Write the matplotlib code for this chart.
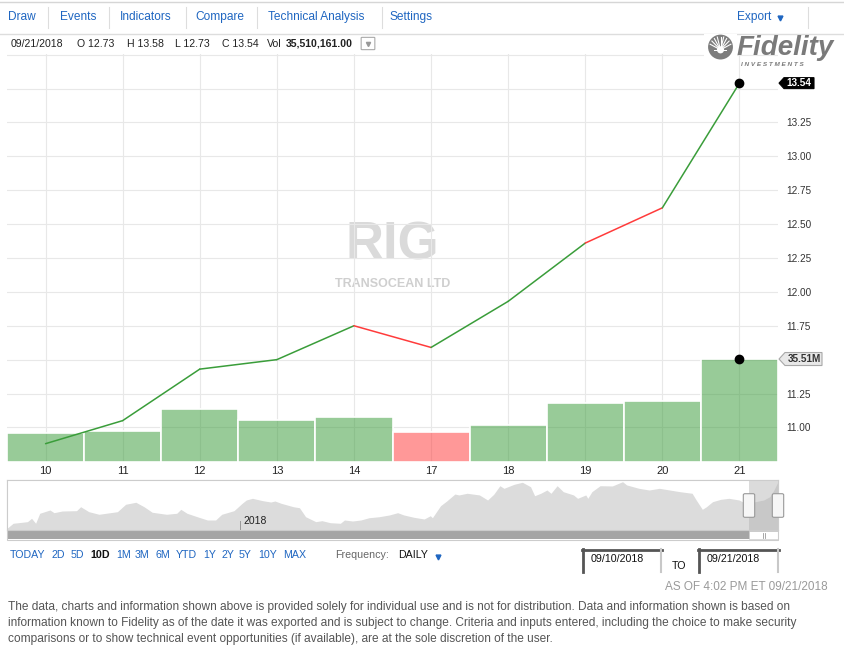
import math
import matplotlib
matplotlib.use("Agg")
import matplotlib.pyplot as plt
from matplotlib.patches import Rectangle, Polygon, FancyBboxPatch, Circle
from matplotlib.lines import Line2D
import pandas as pd

plt.rcParams["font.family"] = ["Liberation Sans", "DejaVu Sans"]

W, H = 844, 649

# ─── Data ────────────────────────────────────────────────────────────────────
days = ["10", "11", "12", "13", "14", "17", "18", "19", "20", "21"]
close = [10.88, 11.05, 11.43, 11.50, 11.75, 11.59, 11.93, 12.36, 12.62, 13.54]
volume_m = [9.9, 10.6, 18.2, 14.4, 15.5, 10.3, 12.6, 20.2, 20.9, 35.51]
vol_up = [True, True, True, True, True, False, True, True, True, True]
seg_up = [True, True, True, True, False, True, True, False, True]
price_ticks = [11.00, 11.25, 11.50, 11.75, 12.00, 12.25, 12.50, 12.75, 13.00, 13.25, 13.50, 13.75]
hidden_ticks = [11.50, 13.50, 13.75]

# navigator: one year of closes (days since nav_start)
nav_start = "2017-09-09"
nav_end = "2018-09-21"
nav_sel_start = "2018-09-07"
nav_day = [0, 3, 10, 12, 14, 16, 21, 23, 27, 34, 36, 40, 45, 54, 58, 63, 67, 71, 78, 83,
           85, 88, 93, 98, 102, 105, 111, 115, 117, 120, 125, 129, 131, 134, 140, 143, 146, 151, 154, 158,
           163, 165, 169, 173, 177, 182, 187, 191, 194, 199, 204, 207, 208, 212, 215, 219, 221, 225, 231, 235,
           238, 241, 243, 248, 252, 256, 258, 261, 264, 266, 269, 272, 277, 279, 283, 284, 286, 290, 296, 301,
           303, 309, 314, 319, 324, 329, 335, 337, 340, 342, 345, 349, 353, 358, 361, 363, 366, 370, 373, 375,
           377]
nav_close = [8.00, 8.60, 8.79, 9.19, 8.60, 9.79, 10.18, 9.86, 10.06, 10.10, 10.57, 9.98, 9.67, 9.98, 10.86, 11.10, 10.57, 9.91, 9.67, 9.79,
             10.26, 9.79, 9.38, 8.99, 8.99, 9.67, 10.10, 10.98, 11.37, 11.57, 11.29, 11.13, 11.25, 10.98, 10.57, 10.45, 9.38, 8.79, 8.91, 8.67,
             8.60, 8.99, 8.87, 8.99, 9.26, 9.38, 9.59, 9.86, 9.59, 9.31, 9.11, 9.50, 9.26, 10.69, 11.25, 12.08, 11.97, 12.17, 11.97, 11.37,
             12.05, 13.07, 12.76, 13.24, 13.48, 12.95, 11.88, 12.17, 12.56, 12.17, 13.07, 12.36, 11.97, 11.57, 11.97, 11.57, 12.36, 13.07, 13.04, 13.55,
             13.16, 12.76, 12.56, 12.76, 12.56, 12.36, 12.17, 11.37, 10.26, 10.57, 11.17, 11.45, 11.57, 11.37, 10.98, 10.98, 11.17, 11.37, 11.76, 12.56,
             13.54]

toolbar_items = ["Draw", "Events", "Indicators", "Compare", "Technical Analysis", "Settings"]
periods = ["TODAY", "2D", "5D", "10D", "1M", "3M", "6M", "YTD", "1Y", "2Y", "5Y", "10Y", "MAX"]
active_period = "10D"
footer = [
    "The data, charts and information shown above is provided solely for individual use and is not for distribution. Data and information shown is based on",
    "information known to Fidelity as of the date it was exported and is subject to change. Criteria and inputs entered, including the choice to make security",
    "comparisons or to show technical event opportunities (if available), are at the sole discretion of the user.",
]

BLUE = "#1f66c1"
GREEN_LINE = "#3a9d3a"
RED_LINE = "#ff3b3b"


def fx(x):
    return x / W


def fy(y):
    return 1 - y / H


def hline(fig, x0, x1, y, color="#dddddd", lw=0.8):
    fig.add_artist(Line2D([fx(x0), fx(x1)], [fy(y), fy(y)], transform=fig.transFigure, color=color, lw=lw))


def vline(fig, x, y0, y1, color="#dddddd", lw=0.8):
    fig.add_artist(Line2D([fx(x), fx(x)], [fy(y0), fy(y1)], transform=fig.transFigure, color=color, lw=lw))


def rect(fig, x0, y0, x1, y1, **kw):
    fig.add_artist(Rectangle((fx(x0), fy(y1)), (x1 - x0) / W, (y1 - y0) / H, transform=fig.transFigure, **kw))


fig = plt.figure(figsize=(W / 100, H / 100), dpi=100, facecolor="white")

# ─── Toolbar ─────────────────────────────────────────────────────────────────
hline(fig, 0, W, 1.5, "#d6d6d6", 1.0)
hline(fig, 0, W, 34, "#dddddd", 1.0)
tool_x = [8, 60, 120, 195, 268, 390]
sep_x = [48, 109, 186, 257, 382, 808]
for s, x in zip(toolbar_items, tool_x):
    fig.text(fx(x), fy(17), s, color=BLUE, fontsize=8.6, va="center", ha="left")
for x in sep_x:
    vline(fig, x, 7, 28, "#dddddd", 0.8)
fig.text(fx(737), fy(17), "Export", color=BLUE, fontsize=8.6, va="center", ha="left")
fig.add_artist(Line2D([fx(780)], [fy(18)], transform=fig.transFigure, marker="v", ms=3.5,
                      color=BLUE, lw=0))

# ─── Info line ───────────────────────────────────────────────────────────────
info = [("09/21/2018", 11, "normal"), ("O 12.73", 77, "normal"), ("H 13.58", 127, "normal"),
        ("L 12.73", 175, "normal"), ("C 13.54", 222, "normal"), ("Vol", 267, "normal"),
        ("35,510,161.00", 286, "bold")]
for s, x, w in info:
    fig.text(fx(x), fy(44), s, fontsize=7.6, va="center", ha="left", color="#222222", weight=w)
fig.add_artist(FancyBboxPatch((fx(362), fy(49)), 12 / W, 11 / H, boxstyle="round,pad=0.001",
                              transform=fig.transFigure, fc="white", ec="#aaaaaa", lw=0.8))
fig.add_artist(Line2D([fx(368)], [fy(43.5)], transform=fig.transFigure, marker="v", ms=3,
                      color="#999999", lw=0))

# ─── Main chart ──────────────────────────────────────────────────────────────
main_rect = [fx(7), fy(461.7), 771 / W, 407.7 / H]
x = list(range(len(days)))

ax = fig.add_axes(main_rect, zorder=1)
ax.set_xlim(-0.5, len(days) - 0.5)
ax.set_ylim(10.747, 13.755)
ax.set_xticks(x)
ax.set_xticklabels(days)
ax.set_yticks(price_ticks)
ax.set_yticklabels(["" if t in hidden_ticks else f"{t:.2f}" for t in price_ticks])
ax.yaxis.tick_right()
ax.tick_params(axis="y", length=0, pad=6, labelsize=7.2, labelcolor="#333333")
ax.tick_params(axis="x", length=0, pad=3, labelsize=8, labelcolor="#222222")
ax.grid(True, color="#e8e8e8", lw=0.8)
for sp in ax.spines.values():
    sp.set_visible(False)

# watermark
ax.text(0.50, 0.53, "RIG", transform=ax.transAxes, ha="center", va="center",
        fontsize=38, weight="bold", color="#dadada", zorder=0)
ax.text(0.50, 0.435, "TRANSOCEAN LTD", transform=ax.transAxes, ha="center", va="center",
        fontsize=9, weight="bold", color="#cfcfcf", zorder=0)

# volume bars
ax_vol = fig.add_axes(main_rect, zorder=2, sharex=ax)
ax_vol.patch.set_alpha(0)
ax_vol.set_ylim(0, 141)
ax_vol.axis("off")
bar_colors = [(0.2, 0.6, 0.2, 0.5) if up else (1.0, 0.2, 0.2, 0.5) for up in vol_up]
ax_vol.bar(x, volume_m, width=1.0, color=bar_colors, edgecolor="white", linewidth=1.2)
ax_vol.plot(x[-1], volume_m[-1], "o", color="black", ms=6, zorder=5)

# volume label
yv = volume_m[-1]
dv = 141 / 407.7
vt = ax_vol.get_yaxis_transform()
ax_vol.add_patch(Polygon([(1 + 1 / 771, yv), (1 + 7 / 771, yv - 6.5 * dv), (1 + 44 / 771, yv - 6.5 * dv),
                          (1 + 44 / 771, yv + 6.5 * dv), (1 + 7 / 771, yv + 6.5 * dv)],
                         closed=True, transform=vt, fc="#e8e8e8", ec="#a8a8a8", lw=0.8, clip_on=False))
ax_vol.text(1 + 26 / 771, yv, f"{yv:.2f}M", transform=vt, ha="center", va="center",
            fontsize=7.2, weight="bold", color="#333333", clip_on=False)

# price line
ax_line = fig.add_axes(main_rect, zorder=3, sharex=ax, sharey=ax)
ax_line.patch.set_alpha(0)
ax_line.axis("off")
for i, up in enumerate(seg_up):
    ax_line.plot([x[i], x[i + 1]], [close[i], close[i + 1]],
                 color=GREEN_LINE if up else RED_LINE, lw=1.1, solid_capstyle="round")
ax_line.plot(x[-1], close[-1], "o", color="black", ms=6, zorder=5)

# last price label
yp = close[-1]
dp = 1 / 136
pt = ax_line.get_yaxis_transform()
ax_line.add_patch(Polygon([(1 + 1 / 771, yp), (1 + 6 / 771, yp - 5.5 * dp), (1 + 36 / 771, yp - 5.5 * dp),
                           (1 + 36 / 771, yp + 5.5 * dp), (1 + 6 / 771, yp + 5.5 * dp)],
                          closed=True, transform=pt, fc="black", ec="black", lw=0.8, clip_on=False))
ax_line.text(1 + 21 / 771, yp, f"{yp:.2f}", transform=pt, ha="center", va="center",
             fontsize=7.2, weight="bold", color="white", clip_on=False)

# ─── Fidelity logo ───────────────────────────────────────────────────────────
lax = fig.add_axes([fx(704), fy(60), 33 / W, 26 / H], zorder=4)
lax.set_xlim(-1.3, 1.3)
lax.set_ylim(-1.0, 1.05)
lax.set_aspect("equal")
lax.axis("off")
lax.add_patch(Rectangle((-1.3, -1.0), 2.6, 2.05, fc="white", ec="none"))
lax.add_patch(Circle((0, 0.02), 0.98, fc="#7d7d7d", ec="none"))
for k in range(9):
    ang = math.radians(25 + 130 * k / 8)
    lax.plot([0, 0.9 * math.cos(ang)], [-0.2, -0.2 + 1.05 * math.sin(ang)], color="white", lw=0.8)
lax.add_patch(Circle((0, -0.2), 0.28, fc="white", ec="none"))
lax.add_patch(Rectangle((-0.55, -0.3), 1.1, 0.12, fc="white", ec="none"))
fig.text(fx(737), fy(48), "Fidelity", fontsize=20, weight="bold", style="italic",
         color="#7a7a7a", va="center", ha="left")
fig.text(fx(741), fy(64), "I N V E S T M E N T S", fontsize=4.6, weight="bold", style="italic",
         color="#7a7a7a", va="center", ha="left")

# ─── Navigator ───────────────────────────────────────────────────────────────
t0 = pd.Timestamp(nav_start)
span = (pd.Timestamp(nav_end) - t0).days
nax = fig.add_axes([fx(7), fy(530), 771 / W, 50 / H], zorder=1)
nax.fill_between(nav_day, nav_close, 7.8, color="#dcdcdc", lw=0)
nax.set_xlim(0, span)
nax.set_ylim(7.8, 13.75)
nax.set_xticks([])
nax.set_yticks([])
for sp in nax.spines.values():
    sp.set_edgecolor("#cccccc")
    sp.set_linewidth(0.8)
sel0 = (pd.Timestamp(nav_sel_start) - t0).days
nax.axvspan(sel0, span, color="#b0b0b0", alpha=0.45, lw=0)
yr = (pd.Timestamp("2018-01-01") - t0).days
nax.plot([yr, yr], [7.8, 8.85], color="#999999", lw=0.7)
nax.text(yr + 1.5, 8.9, "2018", fontsize=7.5, color="#222222", va="center", ha="left")

# scrollbar
rect(fig, 7, 530, 778, 539, fc="#a5a5a5", ec="none")
rect(fig, 749, 531, 778, 539, fc="white", ec="#cccccc", lw=0.5)
vline(fig, 762.5, 533, 537.5, "#999999", 0.6)
vline(fig, 764.5, 533, 537.5, "#999999", 0.6)
rect(fig, 7, 480, 778, 540, fc="none", ec="#cccccc", lw=0.8)

# handles
for hx in (749, 778):
    fig.add_artist(FancyBboxPatch((fx(hx - 4), fy(516)), 8 / W, 21 / H,
                                  boxstyle="round,pad=0.002", transform=fig.transFigure,
                                  fc="#f6f6f6", ec="#999999", lw=0.8, zorder=5))
    vline(fig, hx - 1, 499, 512, "#888888", 0.6)
    vline(fig, hx + 1, 499, 512, "#888888", 0.6)

# ─── Period buttons ──────────────────────────────────────────────────────────
period_x = [10, 52, 71, 90, 116, 135, 155, 176, 203, 221, 239, 258, 283]
for s, px_ in zip(periods, period_x):
    act = s == active_period
    fig.text(fx(px_), fy(555), s, fontsize=7.7, va="center", ha="left",
             color="#111111" if act else BLUE, weight="bold" if act else "normal")
fig.text(fx(335), fy(555), "Frequency:", fontsize=7.7, va="center", ha="left", color="#666666")
fig.text(fx(398), fy(555), "DAILY", fontsize=7.7, va="center", ha="left", color="#111111")
fig.add_artist(Line2D([fx(438)], [fy(557)], transform=fig.transFigure, marker="v", ms=3.5,
                      color=BLUE, lw=0))

# date boxes
for x0, x1, s in ((582, 662, "09/10/2018"), (698, 779, "09/21/2018")):
    hline(fig, x0, x1, 549.5, "#555555", 2.0)
    vline(fig, x0 + 1, 549, 572, "#555555", 2.0)
    vline(fig, x1 - 1, 549, 572, "#c8c8c8", 1.5)
    fig.text(fx(x0 + 9), fy(559), s, fontsize=7.7, va="center", ha="left", color="#111111")
fig.text(fx(672), fy(566), "TO", fontsize=7.7, va="center", ha="left", color="#111111")

fig.text(fx(828), fy(587), "AS OF 4:02 PM ET 09/21/2018", fontsize=8.5, va="center",
         ha="right", color="#9a9a9a")

# ─── Footer ──────────────────────────────────────────────────────────────────
for i, line in enumerate(footer):
    fig.text(fx(8), fy(607 + 16 * i), line, fontsize=8.6, va="center", ha="left", color="#555555")

fig.savefig("out.png", dpi=100, facecolor="white")
plt.close(fig)
